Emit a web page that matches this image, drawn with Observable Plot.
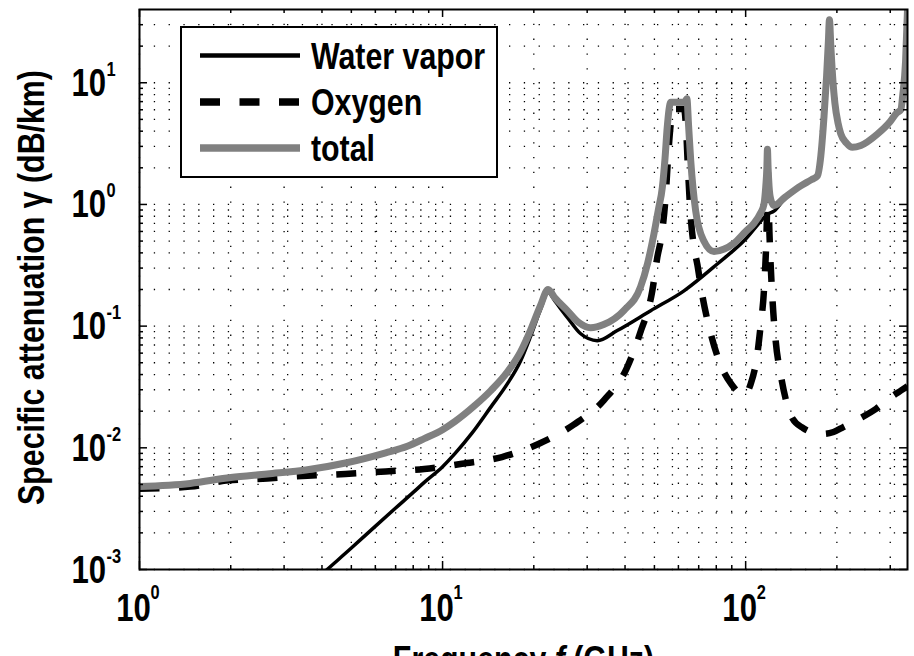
<!DOCTYPE html>
<html><head><meta charset="utf-8">
<script src="https://cdn.jsdelivr.net/npm/d3@7"></script>
<script src="https://cdn.jsdelivr.net/npm/@observablehq/plot@0.6"></script>
<style>
html,body{margin:0;padding:0;background:#fff;overflow:hidden;}
#wrap{position:relative;width:914px;height:656px;overflow:hidden;}
#legend{position:absolute;left:180px;top:26px;}
</style></head><body><div id="wrap"></div>
<script>
const FONT = "'Liberation Sans',Arial,Helvetica,sans-serif";
const NARROW = 0.82; // the reference's font is a condensed sans
const seriesNames = ["Water vapor", "Oxygen", "total"];
const xLabel = "Frequency f (GHz)";
const yLabel = "Specific attenuation \u03b3 (dB/km)";

// Water vapor (solid black)
const waterFreq = [3.5, 4.16, 5.0, 5.92, 7.0, 8.0, 8.7, 10, 11.0, 12.5, 14.4, 16.35, 18.1, 19.5, 21.0, 22.3, 23.5, 25.8, 28.5, 32.4, 37.7, 48.6, 62.6, 80.6, 100, 115, 118, 124, 135, 152, 165, 172.5, 177, 181.4, 185, 187.5, 189, 191, 194, 197, 202, 206, 215, 225, 240, 272, 300, 315, 325, 330, 337, 342];
const waterAtt = [0.00068, 0.001, 0.0015, 0.0022, 0.0032, 0.0043, 0.0052, 0.0070, 0.009, 0.0132, 0.0215, 0.0335, 0.052, 0.082, 0.135, 0.189, 0.16, 0.118, 0.087, 0.076, 0.092, 0.134, 0.195, 0.324, 0.52, 0.78, 0.83, 0.88, 1.125, 1.405, 1.585, 1.705, 2.485, 5.285, 11.48, 21.98, 32.98, 19.98, 10.48, 6.785, 4.585, 3.785, 3.185, 2.935, 3.032, 3.76, 4.775, 5.622, 5.97, 7.97, 14.97, 39.97];

// Oxygen (dashed black)
const oxygenFreq = [1, 1.47, 1.97, 2.64, 3.58, 4.78, 6.49, 8.7, 11.6, 15.7, 20.8, 27.1, 34.1, 40.5, 44.8, 49.2, 51.1, 53.1, 54.5, 55.5, 56.8, 57.5, 62.6, 63.5, 64.5, 65.9, 67.5, 69.3, 71.5, 76.6, 84, 90, 98.7, 103.9, 109.3, 112, 114.9, 117, 118.75, 119.4, 120.5, 122.5, 125.6, 130.5, 142.6, 155, 170, 181, 195, 210, 236.6, 270, 301, 325, 342];
const oxygenAtt = [0.0046, 0.0048, 0.0054, 0.0056, 0.0059, 0.0061, 0.0064, 0.0067, 0.0074, 0.0084, 0.0108, 0.0155, 0.0247, 0.045, 0.087, 0.195, 0.366, 0.61, 1.2, 2.5, 5.0, 6.1, 6.1, 4.5, 2.0, 0.78, 0.45, 0.32, 0.195, 0.088, 0.044, 0.033, 0.027, 0.0335, 0.059, 0.1, 0.195, 0.5, 2.0, 0.83, 0.4, 0.172, 0.076, 0.04, 0.0175, 0.0145, 0.0132, 0.013, 0.0135, 0.0148, 0.0173, 0.021, 0.026, 0.0295, 0.032];

// total (thick gray)
const totalFreq = [1, 1.47, 2, 2.64, 3.58, 4.78, 6.49, 7.65, 8.7, 10, 11, 12.7, 14.4, 16.35, 18.1, 19.5, 21, 22.3, 23.5, 25.8, 28, 30.8, 34, 39.7, 45, 47.5, 49.8, 51.5, 53.1, 54.2, 55.1, 56.6, 60, 62.8, 64, 64.8, 65.9, 68.4, 72.8, 78.6, 85, 91.5, 100, 106.5, 112, 114.9, 116.5, 117.5, 118, 118.6, 119.5, 121, 124, 135, 152, 165, 172.5, 177, 181.4, 185, 187.5, 189, 191, 194, 197, 202, 206, 215, 225, 240, 272, 300, 315, 325, 330, 337, 342];
const totalAtt = [0.0048, 0.0051, 0.0057, 0.0061, 0.0066, 0.0075, 0.0091, 0.0103, 0.0119, 0.0141, 0.0165, 0.022, 0.0294, 0.0419, 0.0618, 0.0924, 0.146, 0.2, 0.17, 0.134, 0.108, 0.097, 0.103, 0.135, 0.21, 0.33, 0.57, 0.9, 1.38, 2.4, 4.28, 6.9, 6.9, 6.9, 7.4, 4.5, 2.28, 0.885, 0.5, 0.41, 0.43, 0.48, 0.6, 0.7, 0.85, 1.0, 1.4, 2.0, 2.84, 2.0, 1.4, 1.1, 0.98, 1.15, 1.42, 1.6, 1.72, 2.5, 5.3, 11.5, 22, 33, 20, 10.5, 6.8, 4.6, 3.8, 3.2, 2.95, 3.05, 3.78, 4.8, 5.65, 6.0, 8.0, 15, 40];

const xDomain = [1, 342];
const yDomain = [1e-3, 40];
const xMajor = [1, 10, 100];
const xMinor = [2,3,4,5,6,7,8,9,20,30,40,50,60,70,80,90,200,300];
const yMajor = [1e-3, 1e-2, 1e-1, 1, 10];
const yMinor = [2e-3,3e-3,4e-3,5e-3,6e-3,7e-3,8e-3,9e-3,2e-2,3e-2,4e-2,5e-2,6e-2,7e-2,8e-2,9e-2,0.2,0.3,0.4,0.5,0.6,0.7,0.8,0.9,2,3,4,5,6,7,8,9,20,30];

const W = 914, H = 690, mL = 139, mR = 7, mT = 9, mB = 121;
const innerW = W - mL - mR, innerH = H - mT - mB;
const styles = {
  water: {stroke: "black", strokeWidth: 3.5},
  oxygen: {stroke: "black", strokeWidth: 6.5, strokeDasharray: "20,19.5", strokeLinecap: "butt"},
  total: {stroke: "#808080", strokeWidth: 7}
};
const grid = {stroke: "black", strokeWidth: 1.3, strokeDasharray: "1.3,13.5", strokeLinecap: "butt"};
const tick = {stroke: "black", strokeWidth: 1.5};
const bold = {fontWeight: "bold", fill: "black"};
const exponent = d => String(Math.round(Math.log10(d)));
const idx = a => d3.range(a.length);

const svg = Plot.plot({
  width: W, height: H,
  marginLeft: mL, marginRight: mR, marginTop: mT, marginBottom: mB,
  style: {fontFamily: FONT, background: "white"},
  x: {type: "log", domain: xDomain, axis: null},
  y: {type: "log", domain: yDomain, axis: null},
  marks: [
    Plot.ruleX(xMajor.concat(xMinor), {x: d => d, ...grid}),
    Plot.ruleY(yMajor.concat(yMinor), {y: d => d, ...grid}),
    Plot.line(idx(waterFreq), {x: i => waterFreq[i], y: i => waterAtt[i], curve: "monotone-x", clip: true, ...styles.water}),
    Plot.line(idx(oxygenFreq), {x: i => oxygenFreq[i], y: i => oxygenAtt[i], curve: "monotone-x", clip: true, ...styles.oxygen}),
    Plot.line(idx(totalFreq), {x: i => totalFreq[i], y: i => totalAtt[i], curve: "monotone-x", clip: true, strokeLinejoin: "round", ...styles.total}),
    Plot.tickX(xMajor, {x: d => d, insetTop: innerH - 8, ...tick}),
    Plot.tickX(xMajor, {x: d => d, insetBottom: innerH - 8, ...tick}),
    Plot.tickX(xMinor, {x: d => d, insetTop: innerH - 4, ...tick}),
    Plot.tickX(xMinor, {x: d => d, insetBottom: innerH - 4, ...tick}),
    Plot.tickY(yMajor, {y: d => d, insetRight: innerW - 8, ...tick}),
    Plot.tickY(yMajor, {y: d => d, insetLeft: innerW - 8, ...tick}),
    Plot.tickY(yMinor, {y: d => d, insetRight: innerW - 4, ...tick}),
    Plot.tickY(yMinor, {y: d => d, insetLeft: innerW - 4, ...tick}),
    Plot.frame({stroke: "black", strokeWidth: 2}),
    // x tick labels: "10" + superscript exponent
    Plot.text(xMajor, {x: d => d, frameAnchor: "bottom", text: () => "10", textAnchor: "middle",
      lineAnchor: "bottom", dx: -6, dy: 51, fontSize: 38, ...bold}),
    Plot.text(xMajor, {x: d => d, frameAnchor: "bottom", text: exponent, textAnchor: "start",
      lineAnchor: "bottom", dx: 11, dy: 29, fontSize: 20, ariaLabel: "tick-exponent", ...bold}),
    // y tick labels
    Plot.text(yMajor, {y: d => d, frameAnchor: "left", text: () => "10", textAnchor: "start",
      lineAnchor: "bottom", dx: -68, dy: 13, fontSize: 38, ...bold}),
    Plot.text(yMajor, {y: d => d, frameAnchor: "left", text: exponent, textAnchor: "start",
      lineAnchor: "bottom", dx: -33, dy: -7, fontSize: 20, ariaLabel: "tick-exponent", ...bold}),
    // axis labels
    Plot.text([xLabel], {frameAnchor: "bottom", text: d => d, textAnchor: "middle", lineAnchor: "bottom", dy: 102,
      fontSize: 37, ...bold}),
    Plot.text([yLabel], {frameAnchor: "left", text: d => d, textAnchor: "middle", rotate: -90, lineAnchor: "middle",
      dx: -107, dy: -2, fontSize: 37, ...bold})
  ]
});

const NS = "http://www.w3.org/2000/svg";
svg.querySelectorAll("text").forEach(t => {
  if (t.textContent === xLabel) {
    t.textContent = "";
    for (const [s, st] of [["Frequency ", null], ["f", "italic"], [" (GHz)", null]]) {
      const sp = document.createElementNS(NS, "tspan"); sp.textContent = s;
      if (st) sp.setAttribute("font-style", st);
      t.appendChild(sp);
    }
  }
});

// condense text horizontally around its anchor point (exponents stay as they are)
function condense(root) {
  root.querySelectorAll("text").forEach(t => {
    if (t.closest('[aria-label="tick-exponent"]')) return;
    const tr = t.getAttribute("transform") || "";
    const x = parseFloat(t.getAttribute("x")) || 0;
    t.setAttribute("transform", `${tr} translate(${x},0) scale(${NARROW},1) translate(${-x},0)`);
  });
}
condense(svg);

const wrap = document.getElementById("wrap");
wrap.appendChild(svg);

// Legend
const leg = d3.create("svg").attr("id", "legend").attr("width", 318).attr("height", 152)
  .style("font-family", FONT);
leg.append("rect").attr("x", 1).attr("y", 1).attr("width", 316).attr("height", 150)
  .attr("fill", "white").attr("stroke", "black").attr("stroke-width", 2);
const legStyles = [styles.water, styles.oxygen, styles.total];
const rowY = [29.5, 76, 122];
seriesNames.forEach((name, i) => {
  const s = legStyles[i];
  const ln = leg.append("line").attr("x1", 20).attr("x2", 120).attr("y1", rowY[i]).attr("y2", rowY[i])
    .attr("stroke", s.stroke).attr("stroke-width", i === 0 ? 4.5 : 7.5);
  if (s.strokeDasharray) ln.attr("stroke-dasharray", s.strokeDasharray);
  leg.append("text").attr("x", 131).attr("y", rowY[i]).attr("dy", "0.36em")
    .attr("font-size", 37).attr("font-weight", "bold").attr("fill", "black").text(name);
});
condense(leg.node());
wrap.appendChild(leg.node());
</script></body></html>
